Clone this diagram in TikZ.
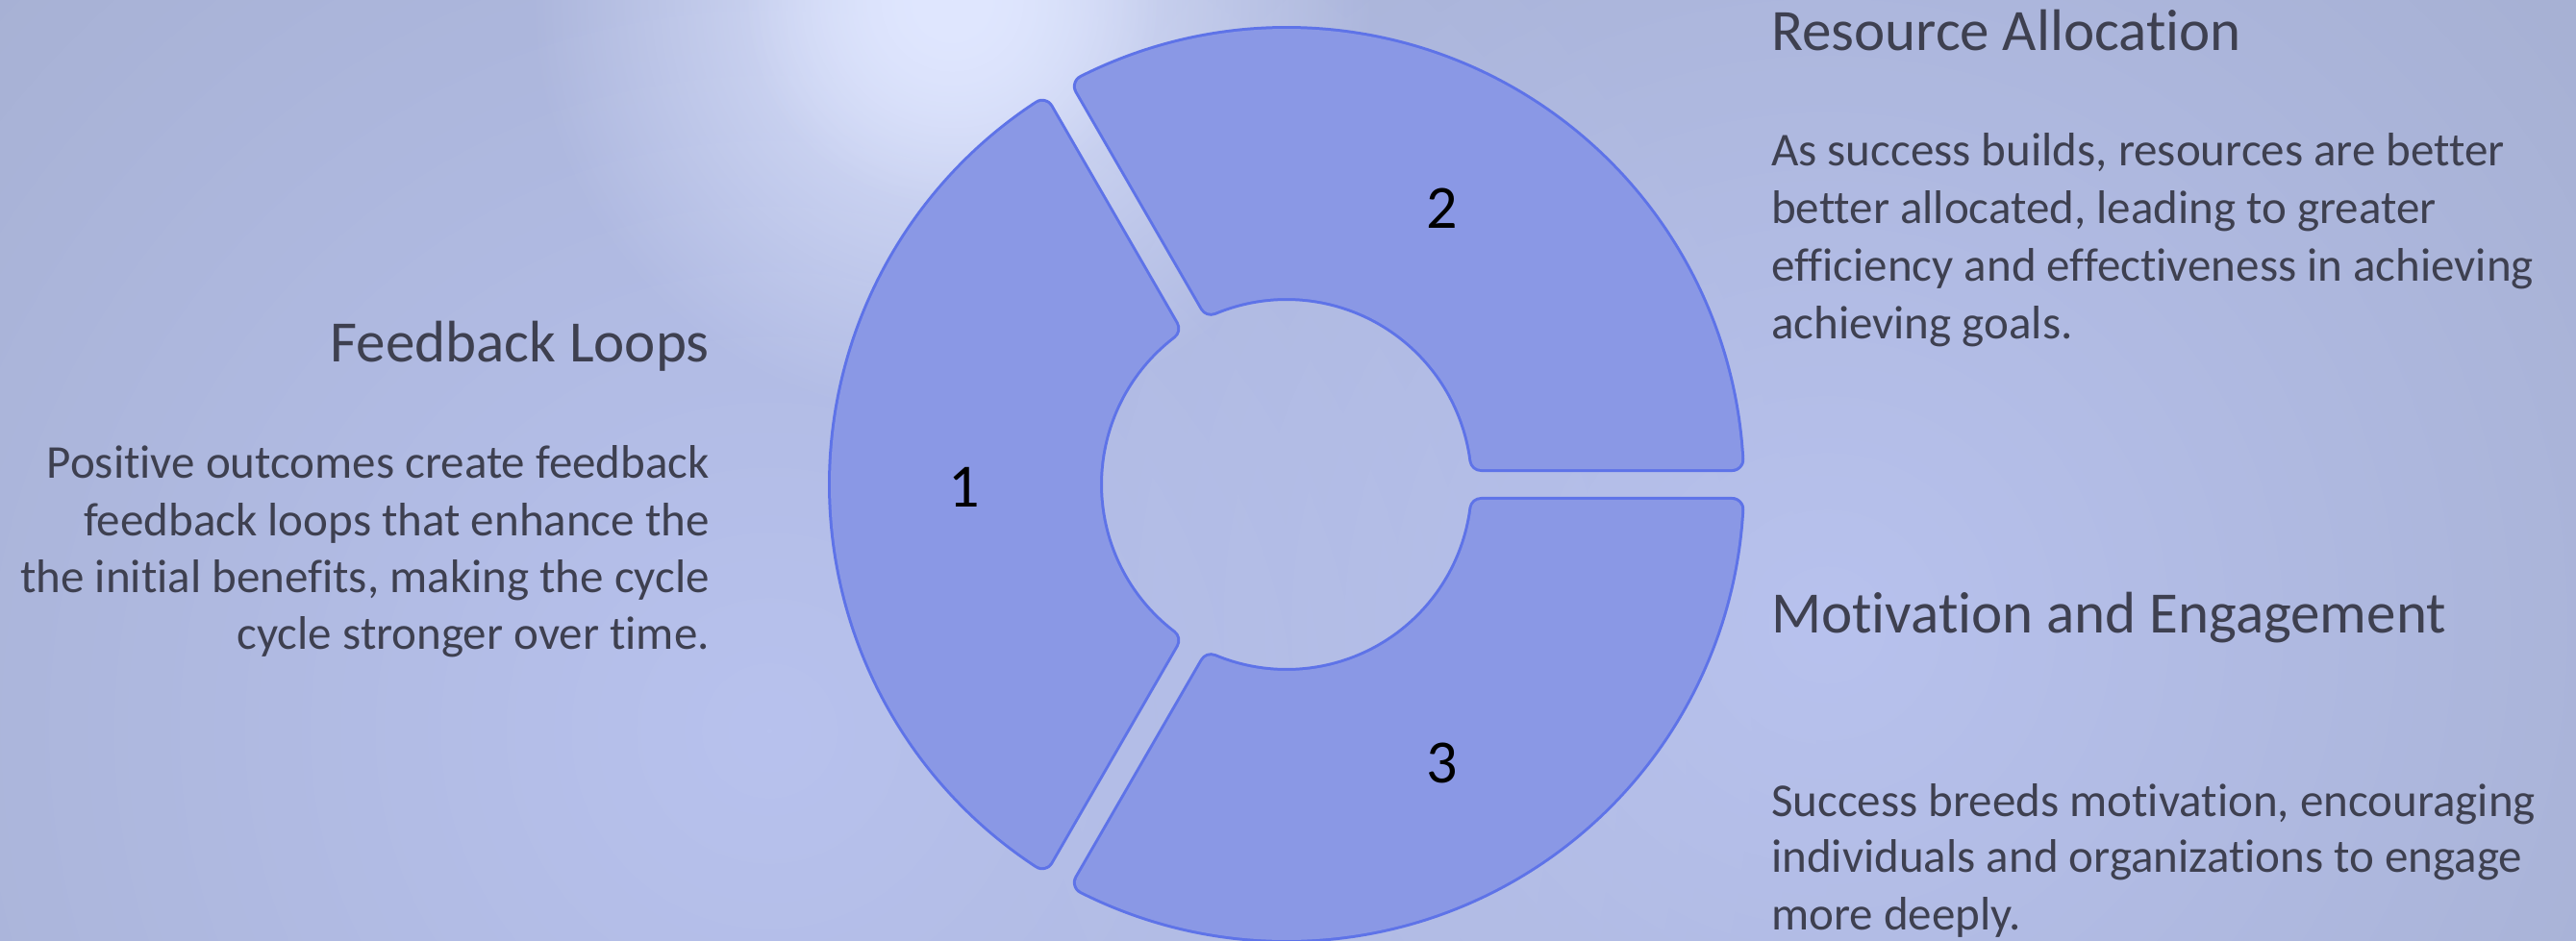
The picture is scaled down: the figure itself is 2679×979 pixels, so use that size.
\documentclass[tikz,border=0pt]{standalone}
\usepackage{fontspec}
\setmainfont{Carlito}[Ligatures=NoCommon]
\usetikzlibrary{fadings}
\tikzfading[name=glowfade, inner color=transparent!0, outer color=transparent!100]
\definecolor{bgbase}{HTML}{A7B1D4}
\definecolor{bgmid}{HTML}{B8C2EE}
\definecolor{bgspot}{HTML}{E0E7FF}
\definecolor{segfill}{HTML}{8A98E5}
\definecolor{segline}{HTML}{5E73E8}
\definecolor{txt}{HTML}{3E4050}
\newcommand\segpath[2]{({#1+7.32}:204) -- ({#1+3.21}:464) arc[start angle={#1+3.21}, end angle={#2-3.21}, radius=464] -- ({#2-7.32}:204) arc[start angle={#2-7.32}, end angle={#1+7.32}, radius=204] -- cycle}
\begin{document}
\begin{tikzpicture}[x=1pt,y=1pt,
  segborder/.style={draw=segline, line width=26pt, line join=round},
  segbody/.style={fill=segfill, draw=segfill, line width=20pt, line join=round},
  title/.style={text=txt, font=\fontsize{61}{73}\selectfont, inner sep=0pt},
  body/.style={text=txt, font=\fontsize{49}{60}\selectfont, inner sep=0pt},
  num/.style={text=black, font=\fontsize{64}{77}\selectfont, inner sep=0pt}]
\useasboundingbox (0,0) rectangle (2679,-979);
% background
\fill[bgbase] (0,0) rectangle (2679,-979);
\begin{scope}
\clip (0,0) rectangle (2679,-979);
\fill[bgmid, path fading=glowfade] (800,-760) circle (1150);
\fill[bgmid, path fading=glowfade] (1900,-650) circle (1000);
\fill[bgspot, path fading=glowfade] (990,0) circle (440);
\fill[bgspot, path fading=glowfade] (990,0) circle (220);
\end{scope}
% ring segments
\begin{scope}[shift={(1338,-504)}]
\foreach \a/\b in {0/120,120/240,240/360}{
  \draw[segborder] \segpath{\a}{\b};
  \filldraw[segbody] \segpath{\a}{\b};
}
\end{scope}
% numbers
\node[num] (n1) at (1003,-507) {1};
\node[num] (n2) at (1500,-217) {2};
\node[num] (n3) at (1500,-794) {3};
% left text
\node[title, anchor=base east] (t1) at (738,-376) {Feedback Loops};
\node[body, anchor=base east] (b1a) at (738,-497) {Positive outcomes create feedback};
\node[body, anchor=base east] (b1b) at (738,-557) {feedback loops that enhance the};
\node[body, anchor=base east] (b1c) at (738,-616) {the initial benefits, making the cycle};
\node[body, anchor=base east] (b1d) at (738,-675) {cycle stronger over time.};
% right top text
\node[title, anchor=base west] (t2) at (1842,-53) {Resource Allocation};
\node[body, anchor=base west] (b2a) at (1842,-172) {As success builds, resources are better};
\node[body, anchor=base west] (b2b) at (1842,-232) {better allocated, leading to greater};
\node[body, anchor=base west] (b2c) at (1842,-292) {efficiency and effectiveness in achieving};
\node[body, anchor=base west] (b2d) at (1842,-352) {achieving goals.};
% right bottom text
\node[title, anchor=base west] (t3) at (1842,-658) {Motivation and Engagement};
\node[body, anchor=base west] (b3a) at (1842,-849) {Success breeds motivation, encouraging};
\node[body, anchor=base west] (b3b) at (1842,-907) {individuals and organizations to engage};
\node[body, anchor=base west] (b3c) at (1842,-967) {more deeply.};
\end{tikzpicture}
\end{document}
